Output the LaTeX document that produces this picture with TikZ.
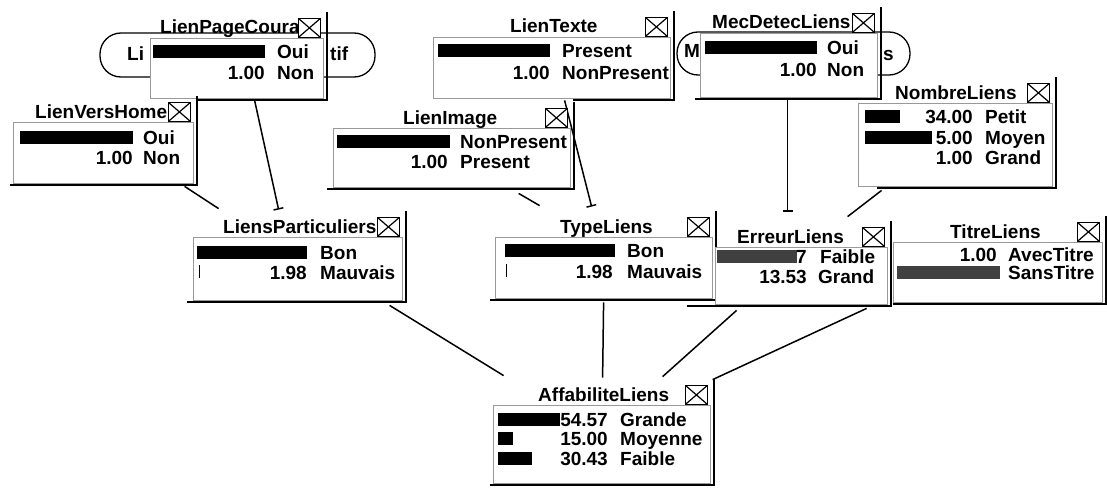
\documentclass[tikz,border=0pt]{standalone}
\usepackage{fontspec}
\setmainfont{Liberation Sans}
\usetikzlibrary{fit,calc,arrows.meta}
\pgfdeclarelayer{paper}
\pgfdeclarelayer{background}
\pgfsetlayers{paper,background,main}
\tikzset{
  body/.style={draw=black!40, line width=0.8pt, fill=white, inner sep=0pt},
  shadowline/.style={line width=2pt, black},
  ttl/.style={inner sep=0pt, anchor=base west},
  xbox/.style={draw, line width=1.2pt, fill=white, minimum width=22pt, minimum height=19pt, inner sep=0pt,
    path picture={\draw[line width=1.2pt] (path picture bounding box.north west) -- (path picture bounding box.south east)
      (path picture bounding box.north east) -- (path picture bounding box.south west);}},
  valtext/.style={inner sep=0pt, anchor=base east},
  statetext/.style={inner sep=0pt, anchor=base west},
  link/.style={line width=1.5pt, black},
  teelink/.style={link, -{Bar[width=10pt,line width=1.5pt]}},
  ovalnode/.style={draw, line width=1.3pt, fill=white, rounded corners=21pt, inner sep=0pt},
}
\newcommand\netbox[8]{%
  \node[body, fit={(#2,#3) (#4,#5)}] (#1) {};
  \draw[shadowline] (#8,#5+2) -- (#4+4,#5+2) -- (#4+4,#3-26);
  \node[ttl] (#1t) at (#7,#3-4) {#6};
  \node[xbox, anchor=south east] (#1x) at (#4-2,#3) {};
}
\newcommand\sttxt[4]{\node[statetext] (#1) at (#2,#3+7) {#4};}
\newcommand\vltxt[4]{\node[valtext] (#1) at (#2,#3+7) {#4};}
\newcommand\pbar[4]{\fill[#4] (#1,#3-6.5) rectangle (#2,#3+6.5);}
\begin{document}
\begin{tikzpicture}[x=1pt,y=-1pt,font=\fontsize{19}{21}\selectfont\bfseries]
\useasboundingbox (0,0) rectangle (1107,487);
\begin{pgfonlayer}{paper}
\fill[white] (0,0) rectangle (1107,487);
\end{pgfonlayer}

% ovals partly hidden behind the boxes
\node[ovalnode, fit={(100,33) (375,77)}] (LPCe) {};
\node[statetext] (LPCel) at (127,60) {Li};
\node[statetext] (LPCer) at (330,60) {tif};
\node[ovalnode, fit={(677,32) (910,75)}] (MDLe) {};
\node[statetext] (MDLel) at (684,58) {M};
\node[statetext] (MDLer) at (883,60) {s};

% LienPageCourant
\netbox{LPC}{150}{38}{323}{98}{LienPageCoura}{160}{197}
\pbar{153}{265}{52}{black}
\sttxt{LPCs1}{277}{52}{Oui}
\vltxt{LPCv2}{265}{72}{1.00}
\sttxt{LPCs2}{277}{72}{Non}

% LienVersHome
\netbox{LVH}{13}{122}{193}{183}{LienVersHome}{35}{10}
\pbar{20}{133}{137}{black}
\sttxt{LVHs1}{143}{137}{Oui}
\vltxt{LVHv2}{133}{157}{1.00}
\sttxt{LVHs2}{143}{157}{Non}

% LienTexte
\netbox{LT}{433}{37}{670}{98}{LienTexte}{510}{573}
\pbar{438}{550}{51}{black}
\sttxt{LTs1}{562}{51}{Present}
\vltxt{LTv2}{550}{72}{1.00}
\sttxt{LTs2}{562}{72}{NonPresent}

% LienImage
\netbox{LI}{333}{128}{570}{187}{LienImage}{403}{327}
\pbar{337}{450}{141}{black}
\sttxt{LIs1}{460}{141}{NonPresent}
\vltxt{LIv2}{448}{161}{1.00}
\sttxt{LIs2}{460}{161}{Present}

% MecDetecLiens
\netbox{MDL}{700}{33}{877}{97}{MecDetecLiens}{712}{695}
\pbar{705}{817}{48}{black}
\sttxt{MDLs1}{827}{48}{Oui}
\vltxt{MDLv2}{817}{69}{1.00}
\sttxt{MDLs2}{827}{69}{Non}

% NombreLiens
\netbox{NL}{858}{103}{1052}{186}{NombreLiens}{895}{877}
\pbar{865}{900}{116}{black}
\pbar{865}{932}{137}{black}
\vltxt{NLv1}{973}{116}{34.00}
\sttxt{NLs1}{985}{116}{Petit}
\vltxt{NLv2}{973}{137}{5.00}
\sttxt{NLs2}{985}{137}{Moyen}
\vltxt{NLv3}{973}{157}{1.00}
\sttxt{NLs3}{985}{157}{Grand}

% LiensParticuliers
\netbox{LP}{193}{237}{402}{300}{LiensParticuliers}{223}{187}
\pbar{197}{307}{252}{black}
\draw[line width=1pt] (199,265) -- (199,278);
\sttxt{LPs1}{320}{252}{Bon}
\vltxt{LPv2}{307}{272}{1.98}
\sttxt{LPs2}{320}{272}{Mauvais}

% TypeLiens
\netbox{TL}{495}{237}{712}{298}{TypeLiens}{560}{490}
\pbar{505}{615}{250}{black}
\draw[line width=1pt] (506,264) -- (506,277);
\sttxt{TLs1}{627}{250}{Bon}
\vltxt{TLv2}{613}{271}{1.98}
\sttxt{TLs2}{627}{271}{Mauvais}

% ErreurLiens
\netbox{EL}{715}{247}{887}{304}{ErreurLiens}{737}{687}
\pbar{717}{797}{256}{black!75}
\vltxt{ELv1}{807}{256}{7}
\sttxt{ELs1}{820}{256}{Faible}
\vltxt{ELv2}{807}{276}{13.53}
\sttxt{ELs2}{818}{276}{Grand}

% TitreLiens
\netbox{TiL}{893}{242}{1102}{302}{TitreLiens}{950}{893}
\vltxt{TiLv1}{997}{254}{1.00}
\sttxt{TiLs1}{1008}{254}{AvecTitre}
\pbar{897}{1000}{272}{black!75}
\sttxt{TiLs2}{1008}{272}{SansTitre}

% AffabiliteLiens
\netbox{AL}{493}{405}{710}{483}{AffabiliteLiens}{538}{490}
\pbar{498}{560}{419}{black}
\pbar{498}{513}{438}{black}
\pbar{498}{532}{458}{black}
\vltxt{ALv1}{608}{419}{54.57}
\sttxt{ALs1}{620}{419}{Grande}
\vltxt{ALv2}{608}{438}{15.00}
\sttxt{ALs2}{620}{438}{Moyenne}
\vltxt{ALv3}{608}{458}{30.43}
\sttxt{ALs3}{620}{458}{Faible}

% links
\begin{pgfonlayer}{background}
\draw[teelink] ($(LPC.south west)+(105,2)$) -- ($(LP.north west)+(86,-27)$);
\draw[link] ($(LVH.south west)+(172,3)$) -- ($(LP.north west)+(26,-28)$);
\draw[link] ($(LI.south west)+(186,6)$) -- ($(TL.north west)+(45,-31)$);
\draw[teelink] ($(LT.south west)+(132,2)$) -- ($(TL.north west)+(97,-30)$);
\draw[teelink] ($(MDL.south west)+(88,3)$) -- ($(EL.north west)+(73,-35)$);
\draw[link] ($(NL.south west)+(24,4)$) -- ($(EL.north west)+(133,-30)$);
\draw[link] ($(LP.south west)+(197,5)$) -- ($(AL.north west)+(11,-29)$);
\draw[link] ($(TL.south west)+(109,4)$) -- ($(AL.north west)+(110,-27)$);
\draw[link] ($(EL.south west)+(22,6)$) -- ($(AL.north west)+(170,-28)$);
\draw[link] ($(TiL.south west)+(-26,6)$) -- ($(AL.north west)+(220,-25)$);
\end{pgfonlayer}
\end{tikzpicture}
\end{document}
